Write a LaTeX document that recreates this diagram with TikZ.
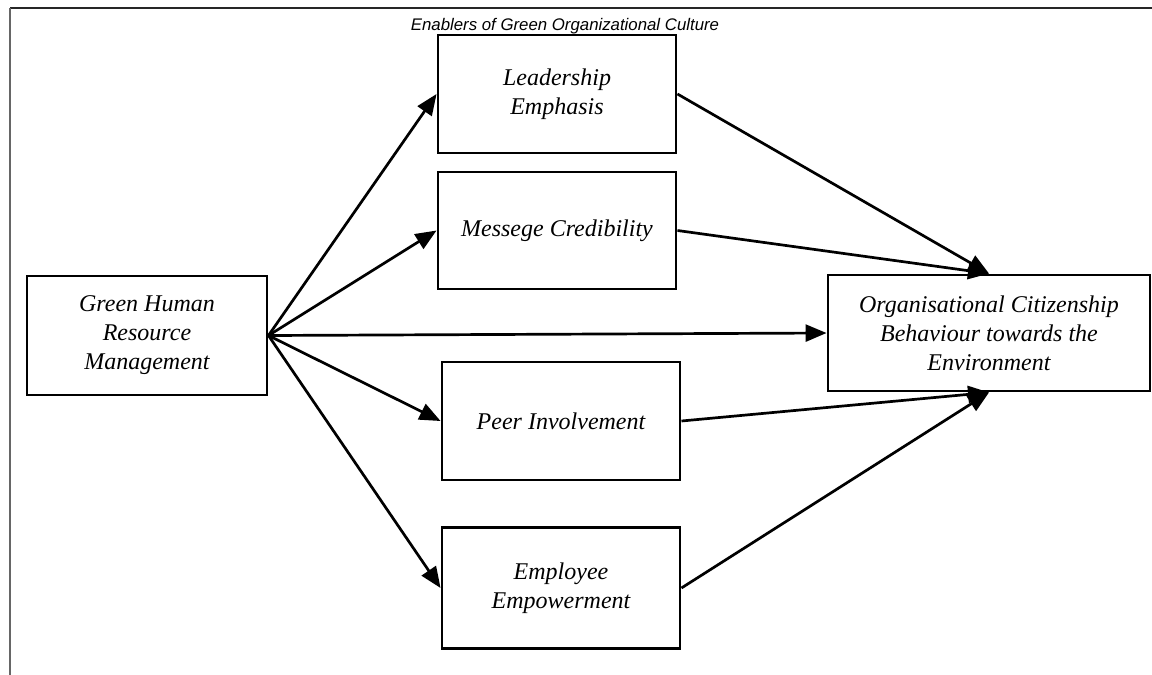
\documentclass[tikz,border=0pt]{standalone}
\usepackage{fontspec}
\setmainfont{Liberation Serif}
\newfontfamily\arialfont{Liberation Sans}
\usetikzlibrary{arrows.meta}
\begin{document}
\begin{tikzpicture}[x=1pt,y=-1pt,
  box/.style={draw=black, line width=2.9pt, fill=white, align=center,
    inner sep=0pt, font=\fontsize{24}{29}\selectfont\itshape},
  conn/.style={line width=2.7pt, -{Triangle[length=21pt,width=17pt]}}]
\useasboundingbox (0,0) rectangle (1152,675);
% frame
\draw[line width=1.6pt, black!85] (10,8) -- (1152,8);
\draw[line width=2.2pt, black!60] (10,8) -- (10,675);
% title
\node[anchor=base] (title) at (565,30) {\arialfont\itshape\fontsize{16.8}{20}\selectfont Enablers of Green Organizational Culture};
% boxes
\node[box, minimum width=240pt, minimum height=119pt] (ghrm) at (147,335.5) {Green Human\\Resource\\Management};
\node[box, minimum width=238pt, minimum height=118pt] (lead) at (557,94) {Leadership\\Emphasis};
\node[box, minimum width=238pt, minimum height=117pt] (mess) at (557,230.5) {Messege Credibility};
\node[box, minimum width=238pt, minimum height=118pt] (peer) at (561,421) {Peer Involvement};
\node[box, minimum width=238pt, minimum height=121pt] (empl) at (561,588) {Employee\\Empowerment};
\node[box, minimum width=322pt, minimum height=116pt] (ocbe) at (989,333) {Organisational Citizenship\\Behaviour towards the\\Environment};
% connectors
\draw[conn] (ghrm.east) -- (lead.west);
\draw[conn] (ghrm.east) -- (mess.west);
\draw[conn] (ghrm.east) -- (ocbe.west);
\draw[conn] (ghrm.east) -- (peer.west);
\draw[conn] (ghrm.east) -- (empl.west);
\draw[conn] (lead.east) -- (ocbe.north);
\draw[conn] (mess.east) -- (ocbe.north);
\draw[conn] (peer.east) -- (ocbe.south);
\draw[conn] (empl.east) -- (ocbe.south);
\end{tikzpicture}
\end{document}
